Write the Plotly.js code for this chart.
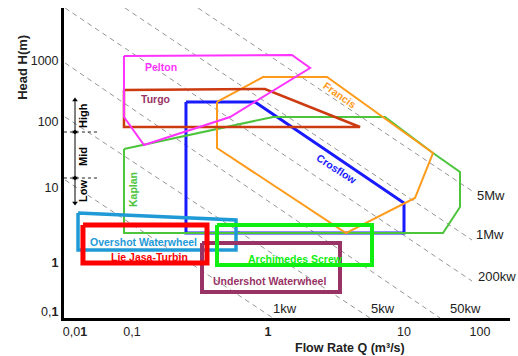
<!DOCTYPE html>
<html>
<head>
<meta charset="utf-8">
<script src="https://cdn.plot.ly/plotly-3.0.1.min.js"></script>
<style>html,body{margin:0;padding:0;background:#fff;}#chart{width:518px;height:356px;}</style>
</head>
<body>
<div id="chart"></div>
<script>
// ---- data (Q in m3/s, H in m) ----
const peltonQ = [0.0873, 1.50, 2.04, 0.526, 0.1225, 0.0873, 0.0873];
const peltonH = [1003, 1038, 666, 124.5, 47.8, 124.5, 1003];

const turgoQ = [0.0873, 0.95, 4.75, 0.0873, 0.0873];
const turgoH = [314, 324, 88.4, 88.4, 314];

const crossflowQ = [0.2494, 0.8026, 10, 10, 0.2494, 0.2494];
const crossflowH = [208, 208, 6.57, 2.35, 2.35, 208];

const francisQ = [0.4217, 0.919, 2.716, 16.34, 12.04, 3.746, 0.4217, 0.4217];
const francisH = [208, 489, 489, 36.3, 7.79, 2.35, 43.1, 208];

const kaplanQ = [0.0873, 1.088, 7.25, 16.34, 25.81, 25.81, 19.36, 0.0873, 0.0873];
const kaplanH = [41.7, 124.5, 124.5, 36.3, 18.96, 5.725, 2.35, 2.35, 41.7];

const overshotQ = [0.0401, 0.5817, 0.5817, 0.0401, 0.0401];
const overshotH = [4.664, 3.669, 1.315, 1.315, 4.664];

const lieJasaQ = [0.0436, 0.356, 0.356, 0.0436, 0.0436];
const lieJasaH = [3.093, 3.093, 0.8427, 0.8427, 3.093];

const archimedesQ = [0.4217, 5.817, 5.817, 0.4217, 0.4217];
const archimedesH = [3.093, 3.093, 0.787, 0.787, 3.093];

const undershotQ = [0.3271, 3.383, 3.383, 0.3271, 0.3271];
const undershotH = [1.671, 1.671, 0.3126, 0.3126, 1.671];

// constant-power guide lines
const powerNames = ['1kw', '5kw', '50kw', '200kw', '1Mw', '5Mw'];
const powerQ = [[0.0322, 1.088], [0.0322, 5.623], [0.0322, 18.40], [0.0322, 31.62], [0.0888, 31.62], [0.3057, 31.62]];
const powerH = [[14.42, 0.1284], [124.5, 0.1284], [789.6, 0.1284], [5184, 0.455], [5184, 1.851], [5184, 9.90]];
const powerLabelQ = [1.334, 7.008, 28.09, 48.3, 42.9, 43.62];
const powerLabelH = [0.1807, 0.1807, 0.1807, 0.540, 2.273, 8.63];

// turbine labels
const labelText = ['Pelton', 'Turgo', 'Francis', 'Crosflow', 'Kaplan', 'Overshot Waterwheel', 'Lie Jasa-Turbin', 'Archimedes Screw', 'Undershot Waterwheel'];
const labelQ = [0.1633, 0.1476, 3.383, 3.217, 0.1017, 0.1205, 0.1334, 1.606, 1.034];
const labelH = [688.6, 230.5, 264.2, 21.02, 10.24, 1.729, 1.035, 0.9664, 0.455];

// head zones
const zoneNames = ['High', 'Mid', 'Low'];
const zoneTopH = [222.7, 74.5, 15.44];
const zoneBottomH = [74.5, 15.44, 6.566];
const zoneLabelH = [133.3, 32.78, 9.90];
const zoneQ = 0.0381;
const zoneLabelQ = 0.0436;
const zoneDividerH = [74.5, 15.44];
const zoneDividerQ = [0.0316, 0.0553];

// axis ticks (positions as drawn on the reference)
const xTickVals = [0.0381, 0.1, 1, 10, 36.2];
const xTickText = ['0,0<b>1</b>', '0,1', '<b>1</b>', '10', '100'];
const yTickVals = [0.1576, 0.8425, 10.97, 105, 845];
const yTickText = ['0,<b>1</b>', '<b>1</b>', '10', '100', '1000'];

// ---- build ----
const FONT = 'Liberation Sans, Arial, Helvetica, sans-serif';
const traces = [];

powerNames.forEach((n, i) => {
  traces.push({x: powerQ[i], y: powerH[i], mode: 'lines', name: n,
    line: {color: '#969696', width: 1, dash: '5px,4px'}});
});
zoneDividerH.forEach(h => {
  traces.push({x: zoneDividerQ, y: [h, h], mode: 'lines',
    line: {color: '#222', width: 1, dash: 'dot'}});
});
zoneNames.forEach((n, i) => {
  traces.push({x: [zoneQ, zoneQ], y: [zoneTopH[i], zoneBottomH[i]], mode: 'lines+markers', name: n,
    line: {color: '#000', width: 1},
    marker: {symbol: ['triangle-up', 'triangle-down'], size: 5, color: '#000'}});
});

function poly(q, h, color, width) {
  traces.push({x: q, y: h, mode: 'lines', line: {color: color, width: width, shape: 'linear'}});
}
poly(crossflowQ, crossflowH, '#1a1aff', 3);
poly(kaplanQ, kaplanH, '#4cc43c', 2);
poly(francisQ, francisH, '#ff9a1a', 2);
poly(turgoQ, turgoH, '#cc3a10', 2.5);
poly(peltonQ, peltonH, '#ff33ff', 2);
poly(overshotQ, overshotH, '#1f9ad6', 3.5);
poly(undershotQ, undershotH, '#993366', 4);
poly(archimedesQ, archimedesH, '#11ee11', 4);
poly(lieJasaQ, lieJasaH, '#ff0000', 5);

const labelColors = ['#ff33ff', '#993366', '#ff9a1a', '#1a1aff', '#4cc43c', '#1f9ad6', '#ff0000', '#11ee11', '#993366'];
const labelAngles = [0, 0, 35, 33, -90, 0, 0, 0, 0];

const annotations = [];
labelText.forEach((t, i) => {
  annotations.push({x: Math.log10(labelQ[i]), y: Math.log10(labelH[i]), xref: 'x', yref: 'y',
    text: t, showarrow: false, textangle: labelAngles[i],
    font: {family: FONT, size: 10.5, color: labelColors[i], weight: 'bold'}});
});
powerNames.forEach((n, i) => {
  annotations.push({x: Math.log10(powerLabelQ[i]), y: Math.log10(powerLabelH[i]), xref: 'x', yref: 'y',
    text: n, showarrow: false, font: {family: FONT, size: 13, color: '#222'}});
});
zoneNames.forEach((n, i) => {
  annotations.push({x: Math.log10(zoneLabelQ), y: Math.log10(zoneLabelH[i]), xref: 'x', yref: 'y',
    text: n, showarrow: false, textangle: -90,
    font: {family: FONT, size: 11, color: '#000', weight: 'bold'}});
});
annotations.push({x: -0.092, y: 0.81, xref: 'paper', yref: 'paper', text: 'Head H(m)', showarrow: false,
  textangle: -90, xanchor: 'center', yanchor: 'middle',
  font: {family: FONT, size: 13, color: '#222', weight: 'bold'}});
annotations.push({x: 0.641, y: -0.097, xref: 'paper', yref: 'paper', text: 'Flow Rate Q (m³/s)',
  showarrow: false, xanchor: 'center', yanchor: 'middle',
  font: {family: FONT, size: 12.5, color: '#222', weight: 'bold'}});

const layout = {
  width: 518, height: 356,
  margin: {l: 64, r: 8, t: 8, b: 38, pad: 0},
  paper_bgcolor: '#fff', plot_bgcolor: '#fff',
  showlegend: false, hovermode: false,
  font: {family: FONT, color: '#222'},
  xaxis: {type: 'log', range: [-1.5, 1.7794], showgrid: false, zeroline: false,
    showline: true, linecolor: '#000', linewidth: 3, ticks: '',
    tickmode: 'array', tickvals: xTickVals, ticktext: xTickText,
    tickfont: {family: FONT, size: 12.5, color: '#222'}},
  yaxis: {type: 'log', range: [-0.8915, 3.7147], showgrid: false, zeroline: false,
    showline: true, linecolor: '#000', linewidth: 3, ticks: '',
    tickmode: 'array', tickvals: yTickVals, ticktext: yTickText,
    tickfont: {family: FONT, size: 12.5, color: '#222'}},
  annotations: annotations
};

Plotly.newPlot('chart', traces, layout, {staticPlot: true, displayModeBar: false});
</script>
</body>
</html>
